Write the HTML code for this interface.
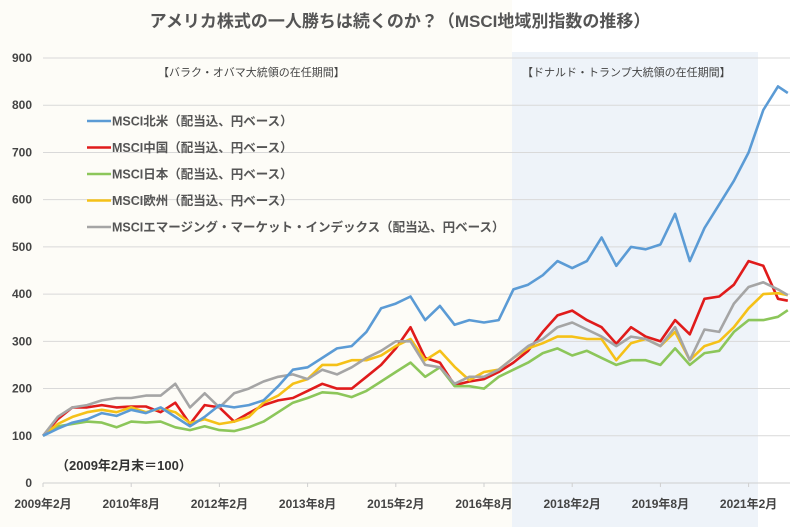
<!DOCTYPE html>
<html><head><meta charset="utf-8"><style>
html,body{margin:0;padding:0;background:#fff;}
svg{display:block;font-family:"Liberation Sans","Noto Sans CJK JP",sans-serif;}
</style></head><body>
<svg id="chart" width="800" height="527" viewBox="0 0 800 527">
<rect x="0" y="0" width="512" height="527" fill="#fdfcf7"/>
<rect x="512" y="52" width="246" height="475" fill="#eef3f9"/>
<text x="400" y="27" text-anchor="middle" font-size="17" font-weight="bold" fill="#555">アメリカ株式の一人勝ちは続くのか？（MSCI地域別指数の推移）</text>
<g id="grid"></g>
<g id="yticks"></g>
<g id="xticks"></g>
<text x="158" y="76" font-size="11" fill="#444">【バラク・オバマ大統領の在任期間】</text>
<text x="522" y="76" font-size="11" fill="#444">【ドナルド・トランプ大統領の在任期間】</text>
<text x="56" y="470" font-size="13" font-weight="bold" fill="#333">（2009年2月末＝100）</text>
<g id="lines"></g>
<g id="legend"></g>
</svg>
<script>
const months=[0,3,6,9,12,15,18,21,24,27,30,33,36,39,42,45,48,51,54,57,60,63,66,69,72,75,78,81,84,87,90,93,96,99,102,105,108,111,114,117,120,123,126,129,132,135,138,141,144,147,150,152];
const northAmerica=[100,115,128,135,148,142,155,148,160,140,120,140,165,160,165,175,205,240,245,265,285,290,320,370,380,395,345,375,335,345,340,345,410,420,440,470,455,470,520,460,500,495,505,570,470,540,590,640,700,790,840,826];
const china=[100,135,160,160,165,160,162,162,150,170,125,165,160,130,148,165,175,180,195,210,200,200,225,250,285,330,265,255,207,215,220,235,255,280,320,355,365,345,330,295,330,310,300,345,315,390,395,420,470,460,390,386];
const japan=[100,120,125,130,128,118,130,128,130,118,112,120,112,110,118,130,150,170,180,192,190,182,195,215,235,255,225,245,205,205,200,225,240,255,275,285,270,280,265,250,260,260,250,285,250,275,280,320,345,345,352,366];
const europe=[100,125,140,150,155,150,160,150,158,150,127,135,125,130,140,170,185,210,220,250,250,260,260,270,290,305,260,280,246,218,235,240,265,285,296,310,310,305,305,260,296,305,290,320,260,290,300,330,370,400,402,398];
const emerging=[100,140,160,165,175,180,180,185,185,210,160,190,160,190,200,215,225,230,220,240,230,245,265,280,300,300,250,245,210,225,225,240,265,290,305,330,340,325,310,290,310,305,290,330,260,325,320,380,415,425,410,398];
const yTicks=[0,100,200,300,400,500,600,700,800,900];
const xTickMonths=[0,18,36,54,72,90,108,126,144];
const xTickLabels=["2009年2月","2010年8月","2012年2月","2013年8月","2015年2月","2016年8月","2018年2月","2019年8月","2021年2月"];
const seriesNames=["MSCI北米（配当込、円ベース）","MSCI中国（配当込、円ベース）","MSCI日本（配当込、円ベース）","MSCI欧州（配当込、円ベース）","MSCIエマージング・マーケット・インデックス（配当込、円ベース）"];
const seriesColors=["#5b9bd5","#e01b1b","#8cc65a","#f5c118","#a5a5a5"];
const seriesKeys=["north-america","china","japan","europe","emerging"];
const seriesData=[northAmerica,china,japan,europe,emerging];

const NS="http://www.w3.org/2000/svg";
const X0=43,PXM=4.9,Y0=483,PXV=0.4722;
function xs(m){return X0+m*PXM;}
function ys(v){return Y0-v*PXV;}
function mk(tag,attrs,parent){const e=document.createElementNS(NS,tag);for(const k in attrs)e.setAttribute(k,attrs[k]);parent.appendChild(e);return e;}
const grid=document.getElementById('grid'),yt=document.getElementById('yticks'),xt=document.getElementById('xticks'),lines=document.getElementById('lines'),leg=document.getElementById('legend');
yTicks.forEach(v=>{
  const l=mk('line',{x1:X0,x2:790,y1:ys(v),y2:ys(v),stroke:v===0?'#cfcfcf':'#d9d9d9','stroke-width':1},grid);
  
  
  const t=mk('text',{x:32,y:ys(v)+4,'text-anchor':'end','font-size':12,'font-weight':'bold',fill:'#444'},yt);
  t.textContent=v;
  
  
});
xTickMonths.forEach((m,i)=>{
  const tk=mk('line',{x1:xs(m),x2:xs(m),y1:Y0,y2:Y0+4,stroke:'#cfcfcf'},xt);
  
  
  const t=mk('text',{x:xs(m),y:508,'text-anchor':'middle','font-size':12,'font-weight':'bold',fill:'#444'},xt);
  t.textContent=xTickLabels[i];
  
  
});
seriesData.forEach((d,i)=>{
  const pts=d.map((v,j)=>xs(months[j]).toFixed(1)+','+ys(v).toFixed(1)).join(' ');
  const p=mk('polyline',{points:pts,fill:'none',stroke:seriesColors[i],'stroke-width':2.6,'stroke-linejoin':'round'},lines);
  
  
});
// draw north america on top
lines.appendChild(lines.firstChild);
seriesNames.forEach((n,i)=>{
  const y=121+i*26.5;
  const g=mk('g',{},leg);
  
  
  mk('line',{x1:87,x2:111,y1:y,y2:y,stroke:seriesColors[i],'stroke-width':2.6},g);
  const t=mk('text',{x:112,y:y+4.5,'font-size':12.5,'font-weight':'bold',fill:'#555'},g);
  t.textContent=n;
});
</script>
</body></html>
